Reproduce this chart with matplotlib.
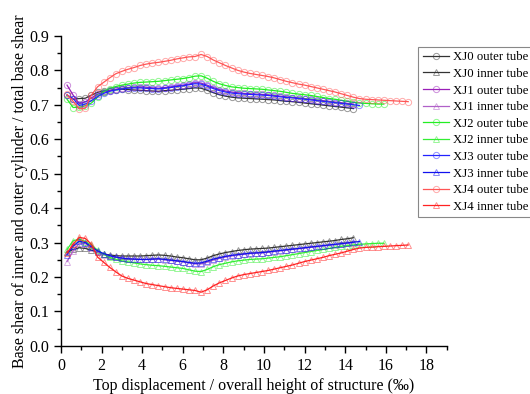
import matplotlib
matplotlib.use("Agg")
import matplotlib.pyplot as plt
from matplotlib.colors import to_rgba
from matplotlib.ticker import MultipleLocator

plt.rcParams['font.family'] = ['Liberation Serif', 'DejaVu Serif']

# displacement steps (top displacement / height, per mille)
disp = [0.3, 0.6, 0.9, 1.2, 1.5, 1.8, 2.1, 2.4, 2.7, 3.0,
        3.3, 3.6, 3.9, 4.2, 4.5, 4.8, 5.1, 5.4, 5.7, 6.0,
        6.3, 6.6, 6.9, 7.2, 7.5, 7.8, 8.1, 8.4, 8.7, 9.0,
        9.3, 9.6, 9.9, 10.2, 10.5, 10.8, 11.1, 11.4, 11.7, 12.0,
        12.3, 12.6, 12.9, 13.2, 13.5, 13.8, 14.1, 14.4, 14.7, 15.0,
        15.3, 15.6, 15.9, 16.2, 16.5, 16.8, 17.1]

xj0_outer = [0.728, 0.716, 0.718, 0.719, 0.728, 0.736, 0.740, 0.742, 0.744, 0.745,
             0.744, 0.743, 0.742, 0.741, 0.740, 0.739, 0.741, 0.742, 0.744, 0.745,
             0.747, 0.749, 0.748, 0.742, 0.735, 0.729, 0.725, 0.722, 0.720, 0.719,
             0.718, 0.717, 0.716, 0.715, 0.714, 0.712, 0.710, 0.709, 0.707, 0.705,
             0.703, 0.701, 0.699, 0.697, 0.695, 0.693, 0.691, 0.689]
xj0_inner = [0.272, 0.280, 0.285, 0.283, 0.278, 0.272, 0.267, 0.264, 0.262, 0.261,
             0.261, 0.261, 0.261, 0.262, 0.263, 0.264, 0.263, 0.261, 0.258, 0.256,
             0.253, 0.250, 0.250, 0.255, 0.262, 0.267, 0.271, 0.274, 0.277, 0.279,
             0.281, 0.282, 0.283, 0.284, 0.286, 0.288, 0.290, 0.292, 0.294, 0.296,
             0.298, 0.300, 0.302, 0.304, 0.306, 0.309, 0.311, 0.314]
xj1_outer = [0.757, 0.728, 0.703, 0.708, 0.720, 0.730, 0.736, 0.741, 0.745, 0.748,
             0.750, 0.751, 0.752, 0.751, 0.749, 0.748, 0.750, 0.752, 0.755, 0.757,
             0.760, 0.764, 0.763, 0.757, 0.750, 0.744, 0.740, 0.737, 0.735, 0.733,
             0.732, 0.731, 0.730, 0.729, 0.727, 0.725, 0.723, 0.721, 0.720, 0.718,
             0.716, 0.714, 0.712, 0.710, 0.708, 0.706, 0.704, 0.702]
xj1_inner = [0.245, 0.275, 0.298, 0.297, 0.285, 0.272, 0.265, 0.261, 0.257, 0.255,
             0.253, 0.252, 0.251, 0.251, 0.251, 0.252, 0.250, 0.248, 0.246, 0.244,
             0.241, 0.238, 0.238, 0.243, 0.249, 0.254, 0.258, 0.261, 0.264, 0.266,
             0.268, 0.269, 0.270, 0.272, 0.274, 0.276, 0.278, 0.280, 0.282, 0.284,
             0.286, 0.288, 0.290, 0.292, 0.294, 0.296, 0.298, 0.300]
xj2_outer = [0.716, 0.692, 0.693, 0.697, 0.705, 0.722, 0.738, 0.747, 0.753, 0.757,
             0.760, 0.763, 0.765, 0.766, 0.767, 0.768, 0.770, 0.772, 0.774, 0.776,
             0.779, 0.783, 0.784, 0.777, 0.768, 0.761, 0.756, 0.752, 0.750, 0.748,
             0.747, 0.746, 0.745, 0.743, 0.741, 0.739, 0.736, 0.733, 0.731, 0.729,
             0.727, 0.724, 0.721, 0.718, 0.716, 0.713, 0.710, 0.707, 0.705, 0.704,
             0.703, 0.702, 0.702]
xj2_inner = [0.280, 0.305, 0.310, 0.303, 0.293, 0.278, 0.266, 0.257, 0.251, 0.247,
             0.244, 0.241, 0.238, 0.236, 0.234, 0.233, 0.231, 0.229, 0.227, 0.225,
             0.221, 0.217, 0.216, 0.222, 0.230, 0.236, 0.240, 0.244, 0.247, 0.249,
             0.251, 0.252, 0.253, 0.255, 0.257, 0.259, 0.262, 0.265, 0.268, 0.271,
             0.274, 0.277, 0.280, 0.283, 0.286, 0.289, 0.291, 0.293, 0.295, 0.296,
             0.297, 0.298, 0.298]
xj3_outer = [0.728, 0.718, 0.698, 0.702, 0.712, 0.724, 0.733, 0.739, 0.743, 0.746,
             0.748, 0.749, 0.749, 0.748, 0.747, 0.746, 0.748, 0.750, 0.753, 0.755,
             0.758, 0.761, 0.760, 0.754, 0.747, 0.741, 0.737, 0.734, 0.732, 0.731,
             0.730, 0.729, 0.728, 0.727, 0.725, 0.723, 0.721, 0.720, 0.718, 0.716,
             0.714, 0.712, 0.710, 0.708, 0.706, 0.704, 0.702, 0.700, 0.698]
xj3_inner = [0.265, 0.290, 0.304, 0.300, 0.288, 0.276, 0.268, 0.262, 0.258, 0.255,
             0.253, 0.252, 0.251, 0.251, 0.252, 0.253, 0.251, 0.249, 0.247, 0.245,
             0.242, 0.240, 0.241, 0.246, 0.252, 0.256, 0.260, 0.263, 0.265, 0.267,
             0.269, 0.270, 0.271, 0.273, 0.275, 0.277, 0.279, 0.281, 0.283, 0.285,
             0.287, 0.289, 0.291, 0.293, 0.295, 0.297, 0.299, 0.301, 0.303]
xj4_outer = [0.730, 0.710, 0.688, 0.690, 0.728, 0.752, 0.765, 0.778, 0.790, 0.797,
             0.803, 0.808, 0.814, 0.818, 0.821, 0.823, 0.826, 0.829, 0.833, 0.836,
             0.839, 0.840, 0.846, 0.840, 0.830, 0.822, 0.814, 0.807, 0.800, 0.795,
             0.791, 0.788, 0.785, 0.782, 0.778, 0.773, 0.768, 0.764, 0.760, 0.757,
             0.753, 0.749, 0.745, 0.741, 0.737, 0.732, 0.727, 0.722, 0.718, 0.716,
             0.715, 0.714, 0.713, 0.712, 0.711, 0.710, 0.709]
xj4_inner = [0.270, 0.295, 0.315, 0.312, 0.295, 0.258, 0.243, 0.228, 0.215, 0.203,
             0.196, 0.191, 0.186, 0.181, 0.178, 0.175, 0.172, 0.169, 0.167, 0.165,
             0.163, 0.161, 0.156, 0.163, 0.174, 0.183, 0.190, 0.197, 0.203, 0.207,
             0.210, 0.213, 0.216, 0.219, 0.223, 0.227, 0.231, 0.235, 0.240, 0.245,
             0.249, 0.253, 0.257, 0.262, 0.266, 0.270, 0.275, 0.280, 0.284, 0.286,
             0.287, 0.288, 0.289, 0.290, 0.291, 0.292, 0.293]

series = [
    ("XJ0 outer tube", xj0_outer, "o", "#333333"),
    ("XJ0 inner tube", xj0_inner, "^", "#333333"),
    ("XJ1 outer tube", xj1_outer, "o", "#9a1fb8"),
    ("XJ1 inner tube", xj1_inner, "^", "#b060c8"),
    ("XJ2 outer tube", xj2_outer, "o", "#22ee22"),
    ("XJ2 inner tube", xj2_inner, "^", "#33ee33"),
    ("XJ3 outer tube", xj3_outer, "o", "#2222ff"),
    ("XJ3 inner tube", xj3_inner, "^", "#1111ee"),
    ("XJ4 outer tube", xj4_outer, "o", "#ff5555"),
    ("XJ4 inner tube", xj4_inner, "^", "#ff2222"),
]

fig = plt.figure(figsize=(5.30, 3.94), dpi=100)
ax = fig.add_axes([0.115, 0.122, 0.728, 0.787])

for label, vals, mk, col in series:
    ax.plot(disp[:len(vals)], vals, marker=mk, color=col, lw=0.9,
            ms=4.5, mfc='none', mew=0.7,
            mec=to_rgba(col, 0.5), label=label)

ax.set_xlim(0, 19)
ax.set_ylim(0, 0.9)
ax.xaxis.set_major_locator(MultipleLocator(2))
ax.xaxis.set_minor_locator(MultipleLocator(1))
ax.yaxis.set_major_locator(MultipleLocator(0.1))
ax.yaxis.set_minor_locator(MultipleLocator(0.05))
ax.yaxis.set_major_formatter(matplotlib.ticker.FormatStrFormatter('%.1f'))
for s in ('top', 'right'):
    ax.spines[s].set_visible(False)
for s in ('left', 'bottom'):
    ax.spines[s].set_linewidth(1.0)
ax.tick_params(which='major', direction='out', length=5, width=1, labelsize=11.5)
ax.tick_params(which='minor', direction='out', length=3, width=1)

ax.set_xlabel("Top displacement / overall height of structure (\u2030)", fontsize=11.5, labelpad=3)
ax.set_ylabel("Base shear of inner and outer cylinder / total base shear", fontsize=11.5, labelpad=1)

leg = ax.legend(loc='upper left', bbox_to_anchor=(0.789, 0.881),
                bbox_transform=fig.transFigure, fontsize=9.2,
                fancybox=False, edgecolor='#888888', framealpha=1,
                handlelength=2.1, handletextpad=0.3, labelspacing=0.36,
                borderpad=0.35, borderaxespad=0)
leg.get_frame().set_linewidth(0.8)

fig.savefig("out.png", dpi=100)
